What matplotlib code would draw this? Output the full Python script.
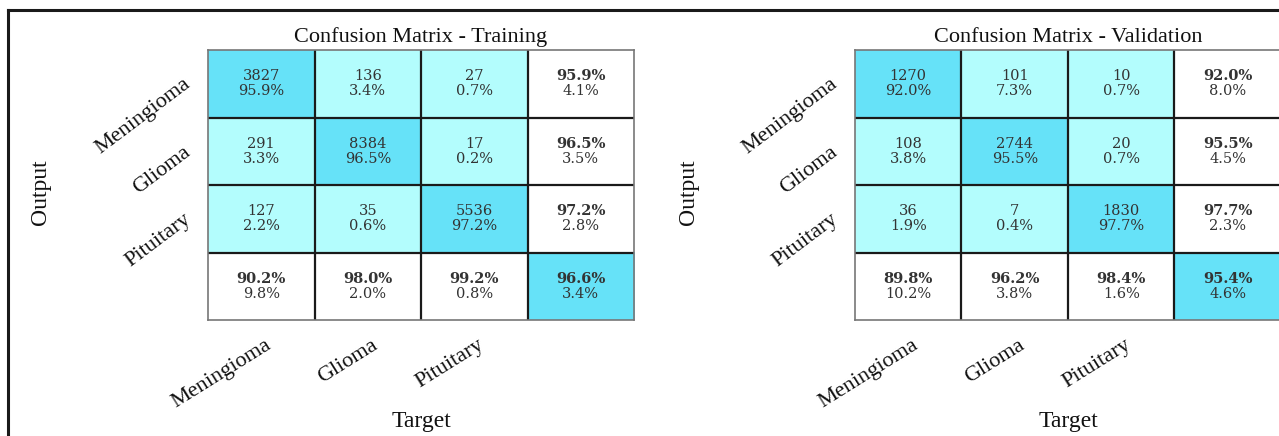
import numpy as np
import matplotlib
matplotlib.use('Agg')
import matplotlib.pyplot as plt
from matplotlib.colors import ListedColormap
from matplotlib.lines import Line2D

classes = ['Meningioma', 'Glioma', 'Pituitary']

train_counts = [[3827, 136, 27], [291, 8384, 17], [127, 35, 5536]]
train_pct = [[95.9, 3.4, 0.7], [3.3, 96.5, 0.2], [2.2, 0.6, 97.2]]
train_row_ok = [95.9, 96.5, 97.2]
train_row_err = [4.1, 3.5, 2.8]
train_col_ok = [90.2, 98.0, 99.2]
train_col_err = [9.8, 2.0, 0.8]
train_total = [96.6, 3.4]

val_counts = [[1270, 101, 10], [108, 2744, 20], [36, 7, 1830]]
val_pct = [[92.0, 7.3, 0.7], [3.8, 95.5, 0.7], [1.9, 0.4, 97.7]]
val_row_ok = [92.0, 95.5, 97.7]
val_row_err = [8.0, 4.5, 2.3]
val_col_ok = [89.8, 96.2, 98.4]
val_col_err = [10.2, 3.8, 1.6]
val_total = [95.4, 4.6]

W, H = 1279, 436
fig = plt.figure(figsize=(W / 100, H / 100), dpi=100)

cmap = ListedColormap(['#ffffff', '#b3fdfd', '#66e2f8'])
cell_font = dict(family='DejaVu Serif', fontsize=10.5, color='#333333', ha='center', va='center')
lab_font = dict(family='Liberation Serif', color='#111111')


def draw_matrix(x0, title, counts, pct, row_ok, row_err, col_ok, col_err, total, out_x):
    ax = fig.add_axes([x0 / W, (H - 320) / H, 426 / W, 270 / H])
    n = len(counts)
    cat = np.zeros((n + 1, n + 1))
    cat[:n, :n] = 1
    cat[np.arange(n + 1), np.arange(n + 1)] = 2
    ax.imshow(cat, cmap=cmap, vmin=0, vmax=2, aspect='auto')
    for k in range(n):
        ax.axhline(k + 0.5, color='#1a1a1a', lw=1.6)
        ax.axvline(k + 0.5, color='#1a1a1a', lw=1.6)
    for s in ax.spines.values():
        s.set_color('#777777')
        s.set_linewidth(1.2)
    d = 0.11
    for i in range(n):
        for j in range(n):
            ax.text(j, i - d, str(counts[i][j]), **cell_font)
            ax.text(j, i + d, f'{pct[i][j]:.1f}%', **cell_font)
        ax.text(n, i - d, f'{row_ok[i]:.1f}%', fontweight='bold', **cell_font)
        ax.text(n, i + d, f'{row_err[i]:.1f}%', **cell_font)
        ax.text(i, n - d, f'{col_ok[i]:.1f}%', fontweight='bold', **cell_font)
        ax.text(i, n + d, f'{col_err[i]:.1f}%', **cell_font)
    ax.text(n, n - d, f'{total[0]:.1f}%', fontweight='bold', **cell_font)
    ax.text(n, n + d, f'{total[1]:.1f}%', **cell_font)
    ax.set_xticks([])
    ax.set_yticks([])
    ax.set_xlim(-0.5, n + 0.5)
    ax.set_ylim(n + 0.5, -0.5)

    ax.set_title(title, fontsize=16, pad=6, **lab_font)
    for k, name in enumerate(classes):
        ax.text(-0.68, k - 0.02, name, rotation=37, rotation_mode='anchor',
                ha='right', va='center', fontsize=16, **lab_font)
        ax.text(k + 0.08, n + 0.85, name, rotation=32, rotation_mode='anchor',
                ha='right', va='center', fontsize=16, **lab_font)
    ax.text(n / 2, n + 2.0, 'Target', ha='center', va='center', fontsize=17, **lab_font)
    fig.text(out_x / W, 1 - 192 / H, 'Output', rotation=90, ha='center', va='center',
             fontsize=17, **lab_font)


draw_matrix(208, 'Confusion Matrix - Training', train_counts, train_pct, train_row_ok,
            train_row_err, train_col_ok, train_col_err, train_total, 40)
draw_matrix(855, 'Confusion Matrix - Validation', val_counts, val_pct, val_row_ok,
            val_row_err, val_col_ok, val_col_err, val_total, 688)

# outer frame (top and left edges only visible)
fig.add_artist(Line2D([8 / W, 1], [1 - 10 / H, 1 - 10 / H], color='#1a1a1a', lw=2.2))
fig.add_artist(Line2D([8 / W, 8 / W], [0, 1 - 10 / H], color='#1a1a1a', lw=2.2))

fig.savefig('out.png', dpi=100, facecolor='white')
